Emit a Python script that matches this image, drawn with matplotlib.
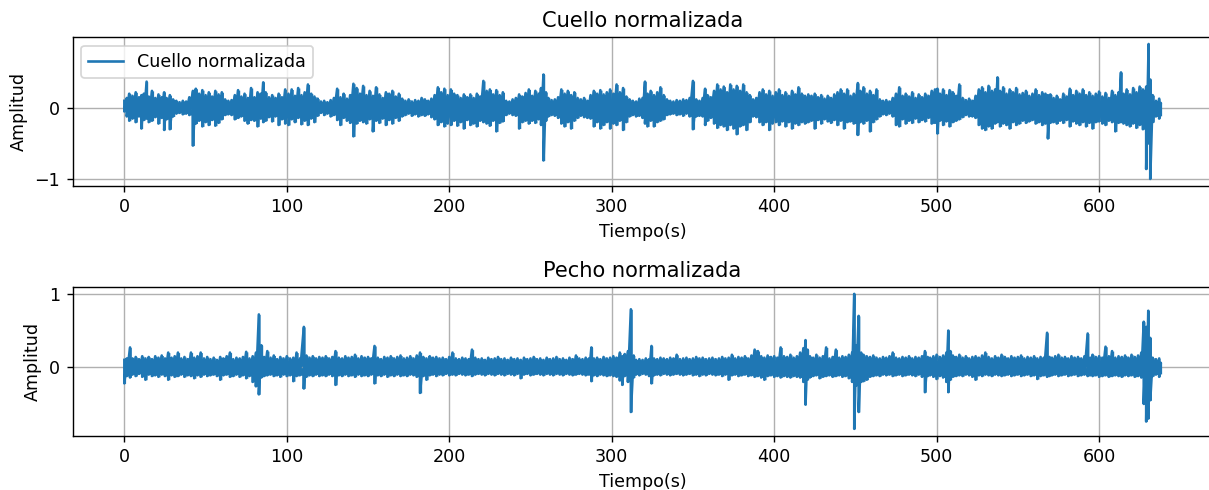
import numpy as np
import matplotlib
matplotlib.use("Agg")
import matplotlib.pyplot as plt

# ---- Cuello normalizada: knot times (s) with local maximum / minimum
cuello_t = [
    0, 1.5, 3, 5, 7, 9, 10.5, 12, 13.7, 15,
    17, 19, 21, 23, 24.5, 26, 28, 30, 32, 34,
    36, 38, 40, 42.2, 44, 46, 48, 50, 52, 54,
    56, 58, 60, 62, 64, 66, 68, 70, 72, 74,
    76, 78, 80, 82, 84, 85.5, 87, 89, 91, 93,
    95, 97, 99, 101, 103, 105, 107, 109, 111, 113,
    115, 117, 119, 121, 123, 125, 127, 129, 131, 133,
    135, 137, 139, 141, 143, 145, 147, 149, 151, 153,
    155, 157, 159, 161, 163, 165, 167, 169, 171, 173,
    175, 177, 179, 181, 183, 185, 187, 189, 191, 193,
    195, 197, 199, 201, 203, 205, 207, 209, 211, 213,
    215, 217, 219, 221, 223, 225, 227, 229, 231, 233,
    235, 237, 239, 241, 243, 245, 247, 249, 251, 253,
    255, 256.5, 258, 259.5, 261, 263, 265, 267, 269, 271,
    273, 275, 277, 279, 281, 283, 285, 287, 289, 291,
    293, 295, 297, 299, 301, 303, 305, 307, 309, 311,
    313, 315, 317, 319, 320.5, 322, 324, 326, 328, 330,
    332, 334, 336, 338, 340, 342, 344, 346, 348, 350,
    352, 354, 356, 357.5, 359, 361, 363, 365, 367, 369,
    371, 373, 375, 377, 379, 381, 383, 385, 387, 389,
    391, 393, 395, 397, 399, 401, 403, 405, 407, 409,
    411, 413, 415, 417, 419, 421, 423, 425, 427, 429,
    431, 433, 435, 437, 439, 441, 443, 445, 447, 449,
    451.5, 453, 455, 457, 459, 461, 463, 465, 467, 469,
    471, 473, 475, 477, 479, 481, 483, 485, 487, 489,
    491, 493, 495, 497, 499, 500.5, 502, 504, 506, 508,
    510, 512, 514, 516, 518, 520, 522, 524, 526, 528,
    530, 532, 534, 536, 537.5, 539, 541, 543, 545, 547,
    549, 551, 553, 555, 557, 559, 561, 563, 565, 567,
    568.5, 570, 572, 574, 576, 578, 580, 582, 584, 586,
    588, 590, 592, 594, 596, 598, 600, 602, 604, 606,
    608, 610, 612, 613.5, 615, 617, 619, 621, 623, 625,
    627, 629, 630.5, 631.5, 633, 635, 637, 638,
]
cuello_hi = [
    0.10, 0.14, 0.20, 0.17, 0.22, 0.15, 0.18, 0.20, 0.37, 0.16,
    0.24, 0.14, 0.19, 0.15, 0.22, 0.14, 0.18, 0.12, 0.10, 0.08,
    0.10, 0.09, 0.15, 0.24, 0.27, 0.20, 0.25, 0.18, 0.22, 0.16,
    0.24, 0.19, 0.22, 0.12, 0.10, 0.11, 0.18, 0.25, 0.16, 0.20,
    0.14, 0.28, 0.15, 0.22, 0.20, 0.36, 0.22, 0.15, 0.18, 0.14,
    0.20, 0.15, 0.26, 0.20, 0.26, 0.17, 0.28, 0.18, 0.22, 0.33,
    0.20, 0.16, 0.13, 0.09, 0.10, 0.08, 0.11, 0.14, 0.27, 0.15,
    0.20, 0.13, 0.18, 0.34, 0.28, 0.20, 0.31, 0.18, 0.24, 0.17,
    0.29, 0.19, 0.14, 0.22, 0.20, 0.24, 0.16, 0.20, 0.13, 0.10,
    0.12, 0.09, 0.11, 0.10, 0.14, 0.12, 0.10, 0.13, 0.18, 0.29,
    0.22, 0.27, 0.18, 0.26, 0.20, 0.18, 0.14, 0.19, 0.15, 0.19,
    0.14, 0.20, 0.16, 0.38, 0.24, 0.26, 0.19, 0.25, 0.18, 0.22,
    0.10, 0.09, 0.12, 0.14, 0.19, 0.16, 0.21, 0.26, 0.17, 0.24,
    0.20, 0.28, 0.47, 0.22, 0.14, 0.11, 0.12, 0.15, 0.26, 0.20,
    0.24, 0.18, 0.22, 0.14, 0.12, 0.14, 0.10, 0.18, 0.24, 0.20,
    0.25, 0.19, 0.22, 0.26, 0.20, 0.33, 0.22, 0.28, 0.16, 0.12,
    0.10, 0.09, 0.13, 0.14, 0.37, 0.20, 0.24, 0.18, 0.22, 0.29,
    0.18, 0.12, 0.10, 0.09, 0.11, 0.10, 0.12, 0.11, 0.14, 0.38,
    0.12, 0.10, 0.14, 0.27, 0.18, 0.15, 0.24, 0.33, 0.26, 0.30,
    0.22, 0.33, 0.26, 0.31, 0.24, 0.33, 0.22, 0.18, 0.12, 0.14,
    0.22, 0.26, 0.19, 0.24, 0.17, 0.22, 0.26, 0.18, 0.22, 0.17,
    0.24, 0.19, 0.29, 0.20, 0.17, 0.19, 0.17, 0.20, 0.15, 0.18,
    0.13, 0.17, 0.14, 0.19, 0.22, 0.26, 0.20, 0.26, 0.17, 0.20,
    0.35, 0.24, 0.29, 0.20, 0.24, 0.18, 0.26, 0.12, 0.10, 0.11,
    0.09, 0.14, 0.20, 0.29, 0.17, 0.20, 0.16, 0.22, 0.14, 0.19,
    0.15, 0.20, 0.17, 0.24, 0.26, 0.27, 0.20, 0.26, 0.18, 0.25,
    0.22, 0.17, 0.33, 0.14, 0.11, 0.13, 0.10, 0.17, 0.26, 0.29,
    0.22, 0.31, 0.24, 0.26, 0.43, 0.24, 0.29, 0.20, 0.26, 0.22,
    0.28, 0.19, 0.21, 0.24, 0.17, 0.20, 0.26, 0.18, 0.22, 0.20,
    0.18, 0.19, 0.14, 0.17, 0.12, 0.20, 0.16, 0.27, 0.18, 0.24,
    0.20, 0.26, 0.18, 0.22, 0.17, 0.20, 0.23, 0.16, 0.21, 0.14,
    0.24, 0.18, 0.22, 0.50, 0.20, 0.26, 0.19, 0.28, 0.22, 0.30,
    0.26, 0.30, 0.90, 0.40, 0.18, 0.10, 0.13, 0.07,
]
cuello_lo = [
    -0.05, -0.12, -0.18, -0.15, -0.20, -0.12, -0.29, -0.17, -0.15, -0.20,
    -0.18, -0.13, -0.22, -0.14, -0.31, -0.16, -0.30, -0.12, -0.08, -0.07,
    -0.09, -0.08, -0.10, -0.53, -0.22, -0.18, -0.26, -0.20, -0.24, -0.17,
    -0.25, -0.21, -0.16, -0.10, -0.09, -0.10, -0.16, -0.14, -0.12, -0.18,
    -0.22, -0.17, -0.18, -0.26, -0.15, -0.20, -0.18, -0.13, -0.19, -0.12,
    -0.24, -0.16, -0.22, -0.24, -0.16, -0.20, -0.14, -0.23, -0.18, -0.24,
    -0.15, -0.20, -0.11, -0.07, -0.10, -0.08, -0.12, -0.10, -0.17, -0.24,
    -0.14, -0.18, -0.21, -0.40, -0.22, -0.18, -0.20, -0.22, -0.16, -0.33,
    -0.18, -0.21, -0.15, -0.24, -0.17, -0.22, -0.14, -0.18, -0.12, -0.10,
    -0.08, -0.11, -0.09, -0.12, -0.10, -0.11, -0.09, -0.13, -0.16, -0.24,
    -0.20, -0.26, -0.22, -0.24, -0.18, -0.25, -0.20, -0.29, -0.17, -0.24,
    -0.22, -0.26, -0.18, -0.20, -0.22, -0.25, -0.18, -0.33, -0.21, -0.19,
    -0.10, -0.08, -0.10, -0.11, -0.29, -0.20, -0.18, -0.22, -0.18, -0.21,
    -0.16, -0.24, -0.74, -0.18, -0.12, -0.10, -0.11, -0.14, -0.22, -0.26,
    -0.20, -0.29, -0.18, -0.14, -0.11, -0.13, -0.14, -0.15, -0.26, -0.20,
    -0.29, -0.24, -0.20, -0.29, -0.22, -0.24, -0.18, -0.31, -0.20, -0.12,
    -0.10, -0.12, -0.11, -0.14, -0.22, -0.26, -0.18, -0.26, -0.20, -0.18,
    -0.16, -0.10, -0.09, -0.08, -0.10, -0.09, -0.11, -0.08, -0.12, -0.30,
    -0.12, -0.11, -0.12, -0.24, -0.18, -0.14, -0.22, -0.28, -0.24, -0.26,
    -0.31, -0.24, -0.29, -0.37, -0.26, -0.24, -0.31, -0.20, -0.12, -0.13,
    -0.20, -0.24, -0.20, -0.31, -0.22, -0.20, -0.24, -0.19, -0.26, -0.20,
    -0.29, -0.22, -0.24, -0.20, -0.22, -0.20, -0.18, -0.29, -0.17, -0.22,
    -0.16, -0.19, -0.21, -0.17, -0.24, -0.18, -0.29, -0.20, -0.19, -0.22,
    -0.38, -0.20, -0.22, -0.18, -0.33, -0.20, -0.16, -0.12, -0.09, -0.10,
    -0.08, -0.12, -0.24, -0.26, -0.16, -0.22, -0.18, -0.21, -0.15, -0.20,
    -0.17, -0.19, -0.14, -0.22, -0.21, -0.36, -0.18, -0.24, -0.19, -0.26,
    -0.20, -0.18, -0.16, -0.13, -0.10, -0.12, -0.12, -0.14, -0.24, -0.29,
    -0.31, -0.26, -0.29, -0.22, -0.20, -0.26, -0.22, -0.24, -0.29, -0.20,
    -0.24, -0.22, -0.18, -0.21, -0.19, -0.17, -0.22, -0.20, -0.24, -0.22,
    -0.43, -0.21, -0.20, -0.22, -0.18, -0.21, -0.17, -0.26, -0.19, -0.22,
    -0.24, -0.20, -0.26, -0.21, -0.29, -0.20, -0.19, -0.22, -0.24, -0.18,
    -0.20, -0.33, -0.21, -0.20, -0.22, -0.24, -0.26, -0.22, -0.28, -0.24,
    -0.30, -0.86, -0.50, -1.00, -0.20, -0.12, -0.15, -0.10,
]

# ---- Pecho normalizada
pecho_t = [
    0, 1.5, 3.5, 5, 7, 9, 11, 13, 15, 17,
    19, 21, 23, 25, 27, 29, 31, 33, 35, 37,
    39, 41, 43, 45, 47, 49, 51, 53, 55, 57,
    59, 61, 63, 65, 67, 69, 71, 73, 75, 77,
    79, 81, 82.8, 84.3, 86, 88, 90, 92, 94, 96,
    98, 100, 102, 104, 106, 108, 110.5, 112, 114, 116,
    118, 120, 122, 124, 126, 128, 130, 132, 134, 136,
    138, 140, 142, 144, 146, 148, 150, 152, 154, 156,
    158, 160, 162, 164, 166, 168, 170, 172, 174, 176,
    178, 180, 182, 184, 186, 188, 190, 192, 194, 196,
    198, 200, 202, 204, 206, 208, 210, 212, 214, 216,
    218, 220, 222, 224, 226, 228, 230, 232, 234, 236,
    238, 240, 242, 244, 246, 248, 250, 252, 254, 256,
    258, 260, 262, 264, 266, 268, 270, 272, 274, 276,
    278, 280, 282, 284, 286, 287.5, 289, 291, 293, 295,
    297, 299, 301, 303, 305, 306.5, 308, 310, 311.8, 313.5,
    315, 317, 319, 321, 323, 324.5, 326, 328, 330, 332,
    334, 336, 338, 340, 342, 344, 346, 348, 350, 352,
    354, 356, 358, 360, 362, 364, 366, 368, 370, 372,
    374, 376, 378, 380, 382, 384, 386, 388, 390, 392,
    394, 396, 398, 400, 402, 404, 406, 408, 410, 412,
    414, 416, 418, 419.3, 420.5, 422, 424, 426, 428, 430,
    432, 434, 436, 438, 440, 442, 444, 446, 448, 449.3,
    450.5, 452, 453.5, 455, 457, 459, 461, 463, 465, 467,
    469, 471, 473, 475, 477, 479, 481, 483, 485, 487,
    489, 491, 492.8, 494.5, 496, 498, 500, 502, 504, 506,
    507.2, 508.5, 510, 512, 514, 516, 518, 520, 522, 524,
    526, 528, 530, 532, 534, 536, 538, 540, 542, 544,
    546, 548, 550, 552, 554, 556, 558, 560, 562, 564,
    566, 568, 569.5, 571, 573, 575, 577, 579, 581, 583,
    585, 587, 589, 591, 593, 594.5, 596, 598, 600, 602,
    604, 606, 608, 610, 612, 614, 616, 618, 620, 622,
    624, 626, 627.5, 629, 630.3, 631.5, 633, 635, 637, 638,
]
pecho_hi = [
    0.10, 0.12, 0.27, 0.12, 0.14, 0.11, 0.15, 0.12, 0.14, 0.11,
    0.15, 0.13, 0.16, 0.12, 0.20, 0.13, 0.15, 0.20, 0.12, 0.14,
    0.11, 0.20, 0.13, 0.15, 0.20, 0.12, 0.14, 0.11, 0.13, 0.10,
    0.14, 0.12, 0.15, 0.20, 0.11, 0.13, 0.12, 0.14, 0.21, 0.12,
    0.15, 0.20, 0.72, 0.30, 0.14, 0.22, 0.13, 0.16, 0.11, 0.14,
    0.12, 0.15, 0.12, 0.13, 0.20, 0.12, 0.55, 0.16, 0.13, 0.15,
    0.12, 0.14, 0.13, 0.15, 0.12, 0.14, 0.22, 0.13, 0.12, 0.15,
    0.13, 0.14, 0.17, 0.12, 0.15, 0.13, 0.14, 0.12, 0.29, 0.13,
    0.11, 0.14, 0.13, 0.15, 0.12, 0.14, 0.16, 0.12, 0.13, 0.15,
    0.12, 0.16, 0.20, 0.14, 0.12, 0.15, 0.13, 0.14, 0.12, 0.13,
    0.11, 0.14, 0.20, 0.12, 0.11, 0.13, 0.12, 0.11, 0.24, 0.13,
    0.11, 0.12, 0.10, 0.13, 0.11, 0.12, 0.14, 0.11, 0.12, 0.10,
    0.13, 0.11, 0.12, 0.10, 0.13, 0.11, 0.12, 0.14, 0.11, 0.12,
    0.10, 0.13, 0.11, 0.12, 0.14, 0.11, 0.12, 0.10, 0.13, 0.11,
    0.16, 0.12, 0.11, 0.13, 0.12, 0.27, 0.12, 0.13, 0.11, 0.14,
    0.12, 0.13, 0.15, 0.13, 0.20, 0.15, 0.18, 0.22, 0.79, 0.16,
    0.10, 0.11, 0.10, 0.12, 0.11, 0.29, 0.12, 0.11, 0.13, 0.12,
    0.11, 0.13, 0.12, 0.17, 0.11, 0.12, 0.13, 0.11, 0.12, 0.14,
    0.12, 0.13, 0.11, 0.12, 0.13, 0.11, 0.12, 0.14, 0.12, 0.13,
    0.17, 0.12, 0.14, 0.13, 0.15, 0.12, 0.16, 0.24, 0.22, 0.15,
    0.13, 0.16, 0.14, 0.15, 0.13, 0.27, 0.15, 0.14, 0.17, 0.13,
    0.15, 0.20, 0.26, 0.37, 0.24, 0.15, 0.13, 0.17, 0.13, 0.15,
    0.27, 0.12, 0.14, 0.24, 0.13, 0.15, 0.14, 0.17, 0.20, 1.00,
    0.30, 0.70, 0.20, 0.17, 0.15, 0.14, 0.16, 0.13, 0.12, 0.14,
    0.13, 0.15, 0.20, 0.13, 0.12, 0.14, 0.13, 0.15, 0.12, 0.14,
    0.13, 0.15, 0.22, 0.14, 0.13, 0.15, 0.17, 0.14, 0.16, 0.20,
    0.50, 0.22, 0.16, 0.14, 0.17, 0.13, 0.15, 0.12, 0.14, 0.15,
    0.13, 0.16, 0.20, 0.14, 0.12, 0.15, 0.13, 0.17, 0.14, 0.12,
    0.15, 0.13, 0.14, 0.16, 0.12, 0.14, 0.13, 0.15, 0.12, 0.14,
    0.13, 0.47, 0.14, 0.13, 0.15, 0.17, 0.13, 0.14, 0.12, 0.15,
    0.13, 0.14, 0.12, 0.15, 0.46, 0.13, 0.17, 0.14, 0.15, 0.13,
    0.28, 0.15, 0.22, 0.13, 0.15, 0.14, 0.16, 0.13, 0.17, 0.14,
    0.16, 0.20, 0.62, 0.55, 0.77, 0.40, 0.13, 0.11, 0.12, 0.06,
]
pecho_lo = [
    -0.22, -0.12, -0.14, -0.10, -0.12, -0.09, -0.13, -0.17, -0.10, -0.12,
    -0.11, -0.13, -0.10, -0.12, -0.17, -0.11, -0.13, -0.12, -0.10, -0.13,
    -0.11, -0.12, -0.15, -0.11, -0.13, -0.10, -0.12, -0.11, -0.10, -0.12,
    -0.17, -0.11, -0.10, -0.13, -0.12, -0.10, -0.13, -0.11, -0.15, -0.12,
    -0.20, -0.26, -0.37, -0.14, -0.12, -0.11, -0.10, -0.12, -0.11, -0.13,
    -0.10, -0.12, -0.11, -0.19, -0.12, -0.11, -0.29, -0.13, -0.11, -0.12,
    -0.10, -0.12, -0.11, -0.12, -0.10, -0.12, -0.24, -0.11, -0.12, -0.10,
    -0.12, -0.11, -0.13, -0.10, -0.12, -0.11, -0.12, -0.10, -0.22, -0.11,
    -0.12, -0.10, -0.13, -0.11, -0.12, -0.10, -0.12, -0.11, -0.12, -0.10,
    -0.11, -0.13, -0.35, -0.12, -0.17, -0.11, -0.10, -0.12, -0.10, -0.11,
    -0.09, -0.11, -0.10, -0.11, -0.09, -0.10, -0.11, -0.10, -0.12, -0.10,
    -0.09, -0.10, -0.11, -0.09, -0.10, -0.11, -0.09, -0.10, -0.11, -0.09,
    -0.10, -0.11, -0.09, -0.15, -0.10, -0.09, -0.11, -0.10, -0.09, -0.10,
    -0.11, -0.09, -0.10, -0.11, -0.09, -0.10, -0.11, -0.09, -0.10, -0.11,
    -0.10, -0.09, -0.10, -0.11, -0.10, -0.19, -0.11, -0.12, -0.10, -0.11,
    -0.12, -0.11, -0.12, -0.13, -0.18, -0.24, -0.12, -0.20, -0.61, -0.14,
    -0.10, -0.11, -0.09, -0.10, -0.12, -0.22, -0.11, -0.10, -0.11, -0.09,
    -0.10, -0.11, -0.10, -0.09, -0.10, -0.11, -0.10, -0.09, -0.11, -0.10,
    -0.12, -0.10, -0.11, -0.09, -0.10, -0.11, -0.10, -0.12, -0.10, -0.17,
    -0.11, -0.10, -0.12, -0.11, -0.10, -0.12, -0.11, -0.13, -0.12, -0.14,
    -0.17, -0.12, -0.11, -0.13, -0.12, -0.14, -0.12, -0.13, -0.14, -0.12,
    -0.13, -0.14, -0.20, -0.51, -0.17, -0.14, -0.12, -0.11, -0.15, -0.13,
    -0.12, -0.11, -0.13, -0.12, -0.11, -0.13, -0.12, -0.15, -0.20, -0.84,
    -0.25, -0.61, -0.20, -0.19, -0.17, -0.13, -0.12, -0.11, -0.12, -0.10,
    -0.11, -0.10, -0.12, -0.11, -0.10, -0.12, -0.11, -0.10, -0.11, -0.12,
    -0.10, -0.13, -0.34, -0.12, -0.11, -0.13, -0.16, -0.12, -0.14, -0.20,
    -0.34, -0.17, -0.13, -0.12, -0.11, -0.12, -0.10, -0.11, -0.13, -0.17,
    -0.11, -0.12, -0.10, -0.11, -0.12, -0.10, -0.11, -0.12, -0.11, -0.10,
    -0.12, -0.11, -0.10, -0.12, -0.11, -0.10, -0.12, -0.11, -0.16, -0.12,
    -0.11, -0.13, -0.12, -0.11, -0.10, -0.12, -0.11, -0.10, -0.12, -0.11,
    -0.10, -0.12, -0.11, -0.10, -0.12, -0.11, -0.12, -0.11, -0.13, -0.12,
    -0.11, -0.13, -0.12, -0.11, -0.12, -0.13, -0.11, -0.12, -0.11, -0.13,
    -0.12, -0.14, -0.50, -0.74, -0.70, -0.45, -0.12, -0.10, -0.13, -0.08,
]

titles = ["Cuello normalizada", "Pecho normalizada"]
xlabel = "Tiempo(s)"
ylabel = "Amplitud"
color = "#1f77b4"


def draw(ax, t, hi, lo, label, legend):
    t = np.asarray(t, float)
    hi = np.asarray(hi, float)
    lo = np.asarray(lo, float)
    x = np.column_stack([t, t]).ravel()
    y = np.column_stack([hi, lo]).ravel()
    ax.fill_between(t, lo, hi, step="mid", color=color, linewidth=0)
    ax.plot(x, y, color=color, linewidth=1.5, label=label)
    ax.set_title(label, fontsize=12)
    ax.set_xlabel(xlabel)
    ax.set_ylabel(ylabel)
    ax.grid(True)
    if legend:
        ax.legend(loc="upper left")


DPI = 126
fig = plt.figure(figsize=(1209 / DPI, 490 / DPI), dpi=DPI)
ax1 = fig.add_axes([0.060, 0.621, 0.943, 0.303])
ax2 = fig.add_axes([0.060, 0.111, 0.943, 0.303])

draw(ax1, cuello_t, cuello_hi, cuello_lo, titles[0], True)
draw(ax2, pecho_t, pecho_hi, pecho_lo, titles[1], False)
ax1.set_yticks([-1, 0])
ax2.set_yticks([0, 1])
for ax in (ax1, ax2):
    ax.set_xticks([0, 100, 200, 300, 400, 500, 600])
    ax.set_xlim(-31.9, 669.9)

fig.savefig("out.png", dpi=DPI)
